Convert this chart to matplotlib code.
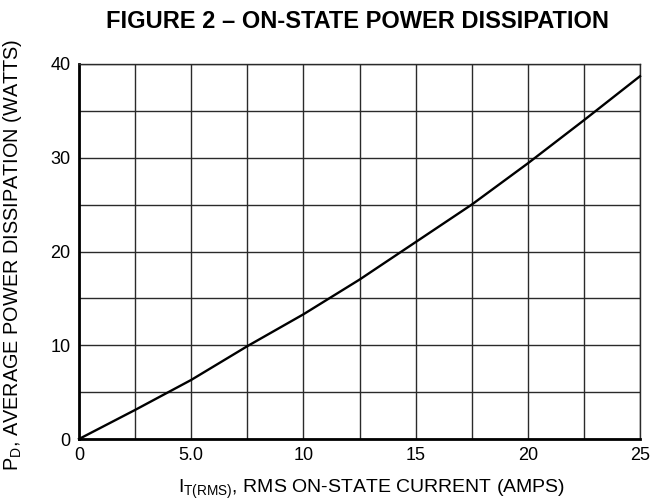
import matplotlib.pyplot as plt
from matplotlib.ticker import MultipleLocator

plt.rcParams['font.family'] = ['Liberation Sans', 'DejaVu Sans']
plt.rcParams['mathtext.fontset'] = 'custom'
plt.rcParams['mathtext.rm'] = 'Liberation Sans'
plt.rcParams['mathtext.it'] = 'Liberation Sans'

# ── Data ─────────────────────────────────────────────────────────────────────
current = [0, 2.5, 5.0, 7.5, 10, 12.5, 15, 17.5, 20, 22.5, 25]
power   = [0, 3.1, 6.3, 9.9, 13.3, 17.0, 21.0, 25.0, 29.4, 34.0, 38.7]

x_ticks  = [0, 5, 10, 15, 20, 25]
x_labels = ["0", "5.0", "10", "15", "20", "25"]
y_ticks  = [0, 10, 20, 30, 40]
y_labels = ["0", "10", "20", "30", "40"]

GRID_COL = "#2a2a2a"

fig = plt.figure(figsize=(6.63, 5.04), dpi=100)
ax = fig.add_axes([79 / 663, 65 / 504, 561 / 663, 375 / 504])

ax.plot(current, power, color="black", linewidth=1.7, zorder=3, clip_on=False)

ax.set_xlim(0, 25)
ax.set_ylim(0, 40)
ax.set_xticks(x_ticks)
ax.set_xticklabels(x_labels)
ax.set_yticks(y_ticks)
ax.set_yticklabels(y_labels)
ax.xaxis.set_minor_locator(MultipleLocator(2.5))
ax.yaxis.set_minor_locator(MultipleLocator(5))
ax.grid(True, which='both', color=GRID_COL, linewidth=1.0, zorder=1)
ax.tick_params(which='both', length=0)
ax.tick_params(axis='x', labelsize=13, pad=6, colors='black')
ax.tick_params(axis='y', labelsize=13, pad=6, colors='black')

for side in ("left", "bottom"):
    ax.spines[side].set_linewidth(2.0)
    ax.spines[side].set_color("black")
for side in ("top", "right"):
    ax.spines[side].set_linewidth(1.0)
    ax.spines[side].set_color(GRID_COL)

fig.text(358 / 663, 1 - 22 / 504, "FIGURE 2 – ON-STATE POWER DISSIPATION",
         ha='center', va='center', fontsize=17, fontweight='bold')
fig.text(372 / 663, 1 - 489 / 504,
         r"I$_\mathregular{T(RMS)}$, RMS ON-STATE CURRENT (AMPS)",
         ha='center', va='center', fontsize=14)
fig.text(13 / 663, 1 - 255 / 504,
         r"P$_\mathregular{D}$, AVERAGE POWER DISSIPATION (WATTS)",
         ha='center', va='center', rotation=90, fontsize=14.3)

plt.savefig("out.png", dpi=100)
